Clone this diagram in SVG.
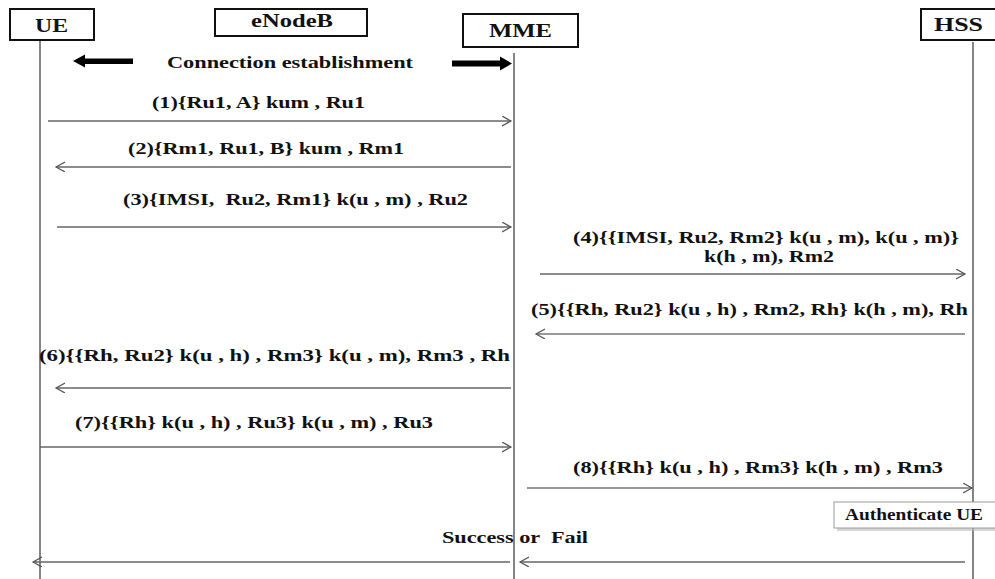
<svg xmlns="http://www.w3.org/2000/svg" width="995" height="579" viewBox="0 0 995 579">
<style>
  .box{fill:#fff;stroke:#111;stroke-width:2}
  .hd{font-family:"Liberation Serif","Times New Roman",serif;font-weight:bold;font-size:18px;fill:#111}
  .msg{font-family:"Liberation Serif","Times New Roman",serif;font-weight:bold;font-size:16px;fill:#111}
  .life{stroke:#666;stroke-width:1.6;fill:none}
  .arr{stroke:#666;stroke-width:1.3;fill:none;marker-end:url(#open)}
  .arrd{stroke:#333;stroke-width:1.2;fill:none;marker-end:url(#open)}
</style>
<defs>
  <marker id="open" markerUnits="userSpaceOnUse" markerWidth="12" markerHeight="12" refX="9" refY="5" orient="auto">
    <path d="M0,0 L9,5 L0,10" fill="none" stroke="#555" stroke-width="1.2"/>
  </marker>
</defs>
<rect width="995" height="579" fill="#fff"/>

<g id="lifelines">
  <line class="life" x1="40" y1="39" x2="40" y2="579"/>
  <line class="life" x1="514" y1="53" x2="514" y2="579"/>
  <line class="life" x1="973" y1="42" x2="973" y2="579"/>
</g>

<g id="UE">
  <rect class="box" x="10" y="9" width="84" height="31"/>
  <text class="hd" x="35" y="32" textLength="33" lengthAdjust="spacingAndGlyphs">UE</text>
</g>
<g id="eNodeB">
  <rect class="box" x="215" y="9" width="152" height="27"/>
  <text class="hd" x="251" y="27" textLength="82" lengthAdjust="spacingAndGlyphs">eNodeB</text>
</g>
<g id="MME">
  <rect class="box" x="463" y="14" width="115" height="33"/>
  <text class="hd" x="489" y="37" textLength="63" lengthAdjust="spacingAndGlyphs">MME</text>
</g>
<g id="HSS">
  <rect class="box" x="921" y="9" width="80" height="31"/>
  <text class="hd" x="934" y="31" textLength="49" lengthAdjust="spacingAndGlyphs">HSS</text>
</g>

<g id="connection-establishment">
  <polygon points="73,61 85,54.5 85,58.5 133,58.5 133,64 85,64 85,67.5" fill="#000"/>
  <polygon points="512,63.5 500,56.5 500,60.5 452,60.5 452,66.5 500,66.5 500,70.5" fill="#000"/>
  <text class="msg" x="167" y="68" textLength="246" lengthAdjust="spacingAndGlyphs">Connection establishment</text>
</g>

<g id="connectors">
  <line class="arr" x1="48" y1="121" x2="511" y2="121"/>
  <line class="arr" x1="511" y1="167" x2="56" y2="167"/>
  <line class="arr" x1="57" y1="227" x2="511" y2="227"/>
  <line class="arr" x1="540" y1="274" x2="965" y2="274"/>
  <line class="arrd" x1="965" y1="334" x2="536" y2="334"/>
  <line class="arr" x1="511" y1="388" x2="56" y2="388"/>
  <line class="arr" x1="40" y1="447" x2="511" y2="447"/>
  <line class="arrd" x1="527" y1="488" x2="972" y2="488"/>
  <line class="arr" x1="510" y1="562" x2="33" y2="562"/>
  <line class="arr" x1="965" y1="562" x2="520" y2="562"/>
</g>

<g id="labels">
  <text class="msg" x="152" y="108" textLength="213" lengthAdjust="spacingAndGlyphs">(1){Ru1, A} kum , Ru1</text>
  <text class="msg" x="128" y="154" textLength="276" lengthAdjust="spacingAndGlyphs">(2){Rm1, Ru1, B} kum , Rm1</text>
  <text class="msg" x="123" y="205" textLength="345" lengthAdjust="spacingAndGlyphs" xml:space="preserve">(3){IMSI,  Ru2, Rm1} k(u , m) , Ru2</text>
  <text class="msg" x="573" y="243" textLength="386" lengthAdjust="spacingAndGlyphs">(4){{IMSI, Ru2, Rm2} k(u , m), k(u , m)}</text>
  <text class="msg" x="704" y="262" textLength="130" lengthAdjust="spacingAndGlyphs">k(h , m), Rm2</text>
  <text class="msg" x="531" y="315" textLength="437" lengthAdjust="spacingAndGlyphs">(5){{Rh, Ru2} k(u , h) , Rm2, Rh} k(h , m), Rh</text>
  <text class="msg" x="39" y="361" textLength="471" lengthAdjust="spacingAndGlyphs">(6){{Rh, Ru2} k(u , h) , Rm3} k(u , m), Rm3 , Rh</text>
  <text class="msg" x="75" y="428" textLength="358" lengthAdjust="spacingAndGlyphs">(7){{Rh} k(u , h) , Ru3} k(u , m) , Ru3</text>
  <text class="msg" x="573" y="473" textLength="370" lengthAdjust="spacingAndGlyphs">(8){{Rh} k(u , h) , Rm3} k(h , m) , Rm3</text>
  <text class="msg" x="442" y="543" textLength="146" lengthAdjust="spacingAndGlyphs" xml:space="preserve">Success or  Fail</text>
</g>

<g id="authenticate-ue">
  <rect x="837" y="505" width="170" height="26" fill="#bbb" opacity="0.6"/>
  <rect x="834" y="502" width="170" height="26" fill="#fff" stroke="#999" stroke-width="1"/>
  <text class="msg" x="845" y="520" font-size="14" textLength="138" lengthAdjust="spacingAndGlyphs">Authenticate UE</text>
</g>
</svg>
